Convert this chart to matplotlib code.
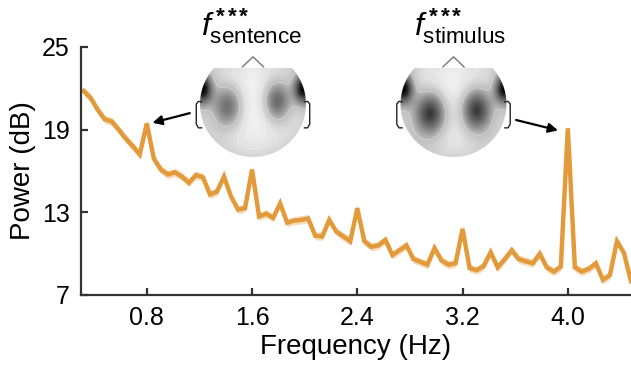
import numpy as np
import matplotlib
matplotlib.use("Agg")
import matplotlib.pyplot as plt
from matplotlib.path import Path
from matplotlib.patches import PathPatch

plt.rcParams["font.family"] = ["Liberation Sans", "DejaVu Sans"]
plt.rcParams["mathtext.fontset"] = "custom"
plt.rcParams["mathtext.rm"] = "Liberation Sans"
plt.rcParams["mathtext.it"] = "Liberation Sans:italic"
plt.rcParams["mathtext.bf"] = "Liberation Sans:bold"

# ── data ─────────────────────────────────────────────────────────
# spectrum bins at 1/18.75 Hz resolution (bins 6..84 -> 0.32..4.48 Hz)
freq_bins = np.arange(6, 85)
freq_hz = freq_bins / 18.75
power_db = [
    21.8, 21.3, 20.45, 19.75, 19.6, 19.0, 18.35, 17.8, 17.2, 19.45,   # 0.32-0.80
    16.9, 16.1, 15.75, 15.9, 15.6, 15.15, 15.7, 15.55, 14.3, 14.5,    # 0.85-1.33
    15.6, 14.15, 13.2, 13.3, 16.1, 12.7, 12.9, 12.6, 13.65, 12.25,    # 1.39-1.87
    12.4, 12.45, 12.55, 11.3, 11.25, 12.45, 11.6, 11.25, 10.9, 13.3,  # 1.92-2.40
    10.9, 10.5, 10.6, 11.0, 9.9, 10.25, 10.6, 9.6, 9.4, 9.2,          # 2.45-2.93
    10.4, 9.5, 9.2, 9.3, 11.8, 8.95, 8.8, 9.1, 10.1, 9.0,             # 2.99-3.47
    9.6, 10.25, 9.6, 9.45, 9.3, 10.0, 9.0, 8.7, 9.05, 19.1,           # 3.52-4.00
    9.0, 8.7, 8.9, 9.3, 8.1, 8.45, 10.9, 10.05, 8.0,                  # 4.05-4.48
]
band_db = 0.3  # half width of the shaded error band

xticks = [0.8, 1.6, 2.4, 3.2, 4.0]
xtick_labels = ["0.8", "1.6", "2.4", "3.2", "4.0"]
yticks = [7, 13, 19, 25]

# topography blobs: (x, y, amplitude, sigma_x, sigma_y), head-radius units
blobs_sentence = [(-0.95, 0.28, 0.75, 0.13, 0.20), (0.95, 0.28, 0.75, 0.13, 0.20),
                  (-0.47, -0.05, 0.55, 0.21, 0.30), (0.45, 0.05, 0.58, 0.19, 0.28)]
blobs_stimulus = [(-0.95, 0.28, 0.75, 0.13, 0.20), (0.95, 0.28, 0.75, 0.13, 0.20),
                  (-0.44, -0.18, 0.75, 0.22, 0.30), (0.42, -0.12, 0.75, 0.21, 0.30)]

LINE = "#E39A3B"
SPINE = "#333333"
W, H = 631, 365

fig = plt.figure(figsize=(W / 100, H / 100), dpi=100)
ax = fig.add_axes([81 / W, (H - 295) / H, (W - 81) / W, 248 / H])

power = np.asarray(power_db)
ax.fill_between(freq_hz, power - band_db, power + band_db, color=LINE, alpha=0.35, lw=0)
ax.plot(freq_hz, power, color=LINE, lw=3.2, solid_joinstyle="miter")

ax.set_xlim(0.3, 4.48)
ax.set_ylim(7, 25)
ax.set_xticks(xticks)
ax.set_xticklabels(xtick_labels)
ax.set_yticks(yticks)
for s in ["top", "right"]:
    ax.spines[s].set_visible(False)
for s in ["left", "bottom"]:
    ax.spines[s].set_color(SPINE)
    ax.spines[s].set_linewidth(1.6)
ax.tick_params(direction="in", length=5, width=1.6, color=SPINE, labelsize=18, pad=8)
ax.set_xlabel("Frequency (Hz)", fontsize=20, labelpad=3)
ax.set_ylabel("Power (dB)", fontsize=20, labelpad=4)

ax.annotate("", xy=(0.843, 19.5), xytext=(1.127, 20.2),
            arrowprops=dict(arrowstyle="-|>", color="k", lw=1.6, mutation_scale=14,
                            shrinkA=0, shrinkB=0))
ax.annotate("", xy=(3.925, 18.95), xytext=(3.607, 19.7),
            arrowprops=dict(arrowstyle="-|>", color="k", lw=1.6, mutation_scale=14,
                            shrinkA=0, shrinkB=0))


# ── topographies ────────────────────────────────────────────────
def draw_head(cx, blobs):
    r, cy = 53, 104
    hx = fig.add_axes([(cx - 1.2 * r) / W, (H - (cy + 1.1 * r)) / H,
                       2.4 * r / W, 2.15 * r / H])
    hx.set_xlim(-1.2, 1.2)
    hx.set_ylim(-1.1, 1.05)
    hx.axis("off")

    gx, gy = np.meshgrid(np.linspace(-1.2, 1.2, 240), np.linspace(-1.1, 1.05, 215))
    field = 0.06 + 0.22 * (gx ** 2 + gy ** 2)
    for bx, by, amp, sx, sy in blobs:
        field += amp * np.exp(-((gx - bx) ** 2 / (2 * sx ** 2) + (gy - by) ** 2 / (2 * sy ** 2)))

    top = 0.68
    t0 = np.arcsin(top)
    theta = np.linspace(t0, -np.pi - t0, 200)
    verts = np.column_stack([np.cos(theta), np.sin(theta)])
    verts = np.vstack([verts, verts[:1]])
    clip = PathPatch(Path(verts), transform=hx.transData, fc="none", ec="none")
    hx.add_patch(clip)

    im = hx.imshow(field, extent=(-1.2, 1.2, -1.1, 1.05), origin="lower", cmap="Greys",
                   vmin=0, vmax=1.05, interpolation="bilinear", aspect="auto")
    im.set_clip_path(clip)
    cs = hx.contour(gx, gy, field, levels=[0.22, 0.4], colors="white",
                    linewidths=0.6, alpha=0.35)
    cs.set_clip_path(clip)

    hx.plot([-0.2, 0, 0.2], [0.70, 0.89, 0.70], color="#777777", lw=1)
    ear = np.array([(-0.97, 0.04), (-1.03, 0.05), (-1.07, 0.0), (-1.07, -0.38),
                    (-1.03, -0.45), (-0.97, -0.45)])
    hx.plot(ear[:, 0], ear[:, 1], color="#222222", lw=1)
    hx.plot(-ear[:, 0], ear[:, 1], color="#222222", lw=1)


draw_head(253, blobs_sentence)
draw_head(453.5, blobs_stimulus)


def freq_label(x, sub):
    s = (r"$\mathit{f}^{\,\mathbf{*}\,\mathbf{*}\,\mathbf{*}}_{\mathrm{" + sub + "}}$")
    fig.text(x / W, 1 - 36 / H, s, fontsize=23, ha="left", va="baseline")


freq_label(201, "sentence")
freq_label(414, "stimulus")

fig.savefig("out.png", dpi=100)
